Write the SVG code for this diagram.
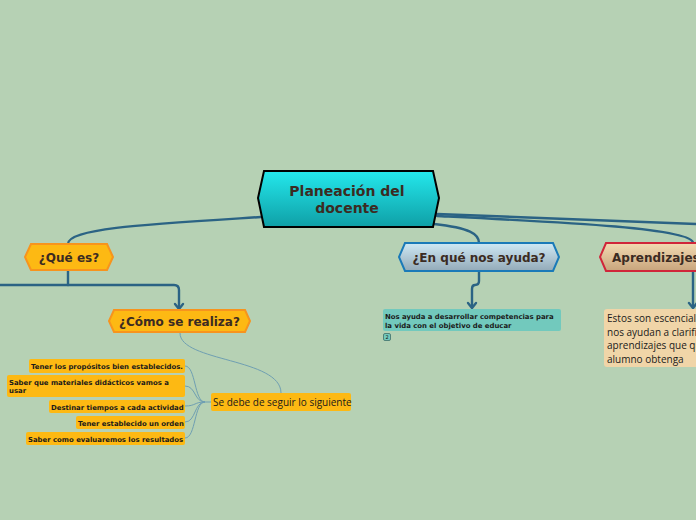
<svg xmlns="http://www.w3.org/2000/svg" width="696" height="520" viewBox="0 0 696 520">
<defs>
<linearGradient id="gCenter" x1="0" y1="0" x2="0" y2="1"><stop offset="0" stop-color="#24e8ec"/><stop offset="1" stop-color="#0f9fa6"/></linearGradient>
<linearGradient id="gBlue" x1="0" y1="0" x2="0" y2="1"><stop offset="0" stop-color="#cfe9f5"/><stop offset="1" stop-color="#93aab8"/></linearGradient>
<linearGradient id="gTan" x1="0" y1="0" x2="0" y2="1"><stop offset="0" stop-color="#f3dbb2"/><stop offset="1" stop-color="#c8a47c"/></linearGradient>
<style>
.main{fill:none;stroke:#2b6384;stroke-width:2.4;stroke-linecap:round}
.thin{fill:none;stroke:#6f9fb2;stroke-width:1}
.head{font-family:"DejaVu Sans",Verdana,sans-serif;font-weight:bold;font-size:12px;fill:#3b2b22;text-anchor:middle}
.small{font-family:"DejaVu Sans",Verdana,sans-serif;font-weight:bold;font-size:6.9px;fill:#1a1a1a}
.body{font-family:"Open Sans","Noto Sans",sans-serif;font-size:10px;fill:#1a1a1a}
.orange{fill:#fdb913}
</style>
</defs>
<rect width="696" height="520" fill="#b6d1b4"/>

<g id="connectors">
<path class="main" d="M261,217 C150,224 68,228 68,244"/>
<path class="main" d="M68,270 V285"/>
<path class="main" d="M0,285 H174 Q179,285 179,290 V308"/>
<path class="main" d="M175,304 L179,309 L183,304"/>
<path class="main" d="M434,224 C470,228 479,234 479,243"/>
<path class="main" d="M479,271 V281 Q479,285 475,285 Q472,285 472,289 V307"/>
<path class="main" d="M468,303 L472,308 L476,303"/>
<path class="main" d="M437,214 L696,224"/>
<path class="main" d="M437,216 C560,222 693,228 693,243"/>
<path class="main" d="M693,271 V307"/>
<path class="main" d="M689,303 L693,308 L697,303"/>
<path class="thin" d="M180,333 C180,362 281,358 281,393"/>
<path class="thin" d="M211,402 H205"/>
<path class="thin" d="M205,402 C194,402 196,366 185,366"/>
<path class="thin" d="M205,402 C194,402 196,386 185,386"/>
<path class="thin" d="M205,402 C194,402 196,406 185,406"/>
<path class="thin" d="M205,402 C194,402 196,422 185,422"/>
<path class="thin" d="M205,402 C194,402 196,438 185,438"/>
</g>

<g id="central">
<polygon points="264,171 433,171 439,198 433,227 264,227 258,198" fill="url(#gCenter)" stroke="#000" stroke-width="2"/>
<text x="347" y="196" class="head" style="font-size:14px">Planeación del</text>
<text x="347" y="213" class="head" style="font-size:14px">docente</text>
</g>

<g id="que-es">
<polygon points="31,244 107,244 113,257 107,270 31,270 25,257" fill="#fdb913" stroke="#f7941d" stroke-width="2"/>
<text x="69" y="261.5" class="head">¿Qué es?</text>
</g>

<g id="como">
<polygon points="114,310 245,310 250,321 245,332 114,332 109,321" fill="#fdb913" stroke="#f7941d" stroke-width="2"/>
<text x="179.5" y="325.5" class="head">¿Cómo se realiza?</text>
</g>

<g id="se-debe">
<rect x="211" y="393" width="140" height="18" rx="2" class="orange"/>
<text x="213" y="405.5" class="body">Se debe de seguir lo siguiente</text>
</g>

<g id="item1">
<rect x="29" y="359" width="156" height="14" rx="2" class="orange"/>
<text x="31" y="369" class="small">Tener los propósitos bien establecidos.</text>
</g>
<g id="item2">
<rect x="7" y="375" width="178" height="22" rx="2" class="orange"/>
<text x="9" y="385" class="small">Saber que materiales didácticos vamos a</text>
<text x="9" y="393" class="small">usar</text>
</g>
<g id="item3">
<rect x="49" y="400" width="136" height="13" rx="2" class="orange"/>
<text x="51" y="409.5" class="small">Destinar tiempos a cada actividad</text>
</g>
<g id="item4">
<rect x="76" y="416" width="109" height="13" rx="2" class="orange"/>
<text x="78" y="425.5" class="small">Tener establecido un orden</text>
</g>
<g id="item5">
<rect x="26" y="432" width="159" height="13" rx="2" class="orange"/>
<text x="28" y="441.5" class="small">Saber como evaluaremos los resultados</text>
</g>

<g id="en-que">
<polygon points="405,243 553,243 559,257 553,271 405,271 399,257" fill="url(#gBlue)" stroke="#1a7ab8" stroke-width="2"/>
<text x="479" y="261.5" class="head">¿En qué nos ayuda?</text>
</g>

<g id="nos-ayuda">
<rect x="383" y="309" width="178" height="22" rx="2" fill="#72c9bd"/>
<text x="385" y="319" class="small">Nos ayuda a desarrollar competencias para</text>
<text x="385" y="327.5" class="small">la vida con el objetivo de educar</text>
<rect x="383.5" y="333.5" width="7" height="7" rx="1.5" fill="#72c9bd" stroke="#3f6f6a" stroke-width="0.8"/>
<text x="387" y="339" style="font-family:'DejaVu Sans',sans-serif;font-size:5px;fill:#1a1a1a;text-anchor:middle">2</text>
</g>

<g id="aprendizajes">
<polygon points="606,243 705,243 705,271 606,271 600,257" fill="url(#gTan)" stroke="#d0263a" stroke-width="2"/>
<text x="612" y="261.5" class="head" style="text-anchor:start">Aprendizajes</text>
</g>

<g id="estos">
<rect x="604" y="309" width="100" height="58" rx="3" fill="#f0d5a8"/>
<text x="607" y="322" class="body">Estos son escenciales</text>
<text x="607" y="335.5" class="body">nos ayudan a clarifi</text>
<text x="607" y="349" class="body">aprendizajes que qu</text>
<text x="607" y="362.5" class="body">alumno obtenga</text>
</g>
</svg>
